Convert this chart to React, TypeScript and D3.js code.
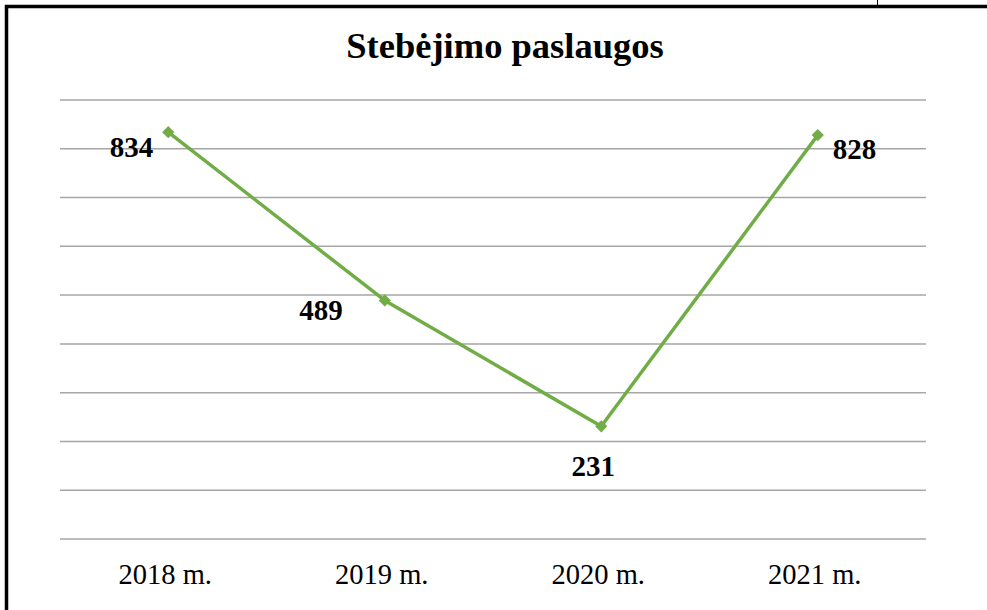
import React from "react";
import * as d3 from "d3";

const categories = ["2018 m.", "2019 m.", "2020 m.", "2021 m."];
const values = [834, 489, 231, 828];
const yTicks = [0, 100, 200, 300, 400, 500, 600, 700, 800, 900];

const SERIF = "'Liberation Serif', 'Times New Roman', serif";

// label placement relative to the point (layout only)
const labelOffsets = [
  { dx: -15, dy: 24.5, anchor: "end" },
  { dx: -42, dy: 19.5, anchor: "end" },
  { dx: -8, dy: 50, anchor: "middle" },
  { dx: 15, dy: 23.5, anchor: "start" },
];

export default function App() {
  const W = 987, H = 610;
  const left = 60, right = 926, top = 100, bottom = 539;
  const x = d3.scaleBand<string>().domain(categories).range([left, right]);
  const y = d3.scaleLinear().domain([0, 900]).range([bottom, top]);
  const cx = (c: string) => (x(c) as number) + x.bandwidth() / 2;
  const line = d3.line<number>().x((_, i) => cx(categories[i])).y(v => y(v));
  const diamond = d3.symbol().type(d3.symbolDiamond2).size(95)();
  return (
    <svg width={W} height={H} style={{ position: "absolute", left: 0, top: 0 }}>
      <rect x={0} y={0} width={W} height={H} fill="#fff" />
      <rect x={6.5} y={6.5} width={990} height={620} fill="none" stroke="#000" strokeWidth={3.5} />
      <line x1={877.5} y1={0} x2={877.5} y2={6} stroke="#000" strokeWidth={1} />
      <text x={505} y={58} textAnchor="middle" fontFamily={SERIF} fontWeight="bold" fontSize={36.5} fill="#000">
        Stebėjimo paslaugos
      </text>
      {yTicks.map(t => (
        <line key={t} x1={left} x2={right} y1={y(t)} y2={y(t)} stroke="#a6a6a6" strokeWidth={1.5} />
      ))}
      <path d={line(values) || ""} fill="none" stroke="#70ad47" strokeWidth={3.5} strokeLinejoin="round" />
      {values.map((v, i) => (
        <path key={i} d={diamond || ""} transform={`translate(${cx(categories[i])},${y(v)})`} fill="#70ad47" />
      ))}
      {values.map((v, i) => {
        const o = labelOffsets[i];
        return (
          <text key={i} x={cx(categories[i]) + o.dx} y={y(v) + o.dy} textAnchor={o.anchor as any}
            fontFamily={SERIF} fontWeight="bold" fontSize={29} fill="#000">
            {v}
          </text>
        );
      })}
      {categories.map(c => (
        <text key={c} x={cx(c) - 3} y={584} textAnchor="middle" fontFamily={SERIF} fontSize={28.5} fill="#000">
          {c}
        </text>
      ))}
    </svg>
  );
}
